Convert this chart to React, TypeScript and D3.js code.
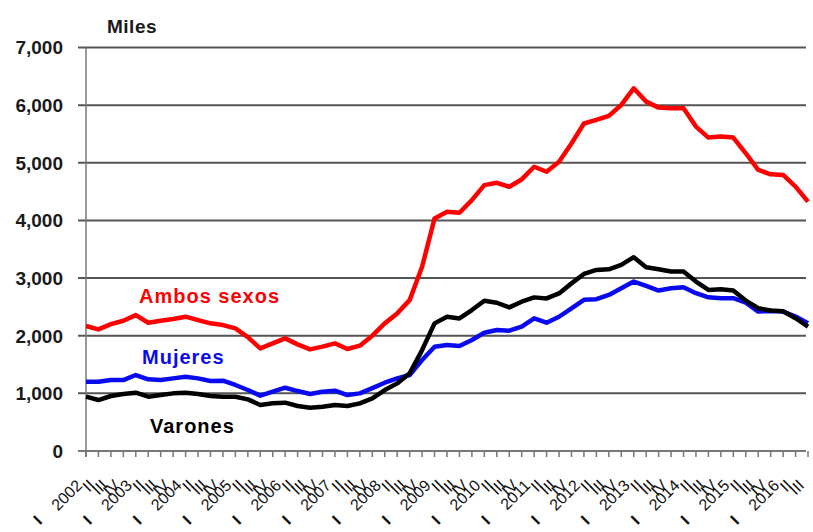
import { useEffect, useRef } from 'react';
import * as d3 from 'd3';

// Quarters 2002 I .. 2016 III
const years = d3.range(2002, 2017);
const quarterNames = ['I', 'II', 'III', 'IV'];
const quarters = years.flatMap(y => quarterNames.map(q => ({ year: y, q }))).slice(0, 59);

// Parados, miles
const ambosSexos = [
  2168, 2110, 2200, 2260, 2358, 2225, 2260, 2290, 2330, 2270,
  2215, 2185, 2127, 1975, 1780, 1867, 1954, 1850, 1763, 1810,
  1867, 1770, 1827, 2000, 2214, 2387, 2618, 3196, 4035, 4150,
  4133, 4353, 4613, 4653, 4584, 4711, 4931, 4844, 5017, 5335,
  5682, 5743, 5813, 6003, 6292, 6061, 5957, 5946, 5946, 5628,
  5437, 5454, 5437, 5165, 4876, 4801, 4789, 4586, 4326,
];
const mujeres = [
  1202, 1202, 1231, 1231, 1318, 1243, 1231, 1260, 1289, 1260,
  1214, 1220, 1145, 1058, 960, 1029, 1098, 1040, 988, 1029,
  1046, 971, 1000, 1090, 1185, 1260, 1318, 1578, 1809, 1838,
  1821, 1925, 2052, 2098, 2087, 2156, 2301, 2225, 2329, 2474,
  2622, 2633, 2708, 2823, 2939, 2864, 2783, 2823, 2841, 2737,
  2667, 2650, 2650, 2575, 2419, 2430, 2419, 2332, 2217,
];
const varones = [
  942, 884, 954, 988, 1012, 942, 971, 1000, 1012, 988,
  954, 942, 942, 896, 798, 827, 838, 780, 751, 769,
  798, 780, 827, 913, 1058, 1173, 1347, 1751, 2214, 2329,
  2300, 2445, 2607, 2572, 2491, 2590, 2665, 2647, 2734, 2908,
  3071, 3142, 3153, 3228, 3362, 3188, 3153, 3113, 3113, 2939,
  2794, 2806, 2783, 2610, 2477, 2436, 2425, 2303, 2159,
];
const yTicks = [0, 1000, 2000, 3000, 4000, 5000, 6000, 7000];

const seriesList = [
  { name: 'Ambos sexos', values: ambosSexos, color: '#ff0000', lx: 139, ly: 303 },
  { name: 'Mujeres', values: mujeres, color: '#0a0af0', lx: 142, ly: 364 },
  { name: 'Varones', values: varones, color: '#000000', lx: 150, ly: 433 },
];

const FONT = '"Liberation Sans", Arial, sans-serif';

export default function App() {
  const svgRef = useRef<SVGSVGElement>(null);

  useEffect(() => {
    const width = 813;
    const height = 532;
    const margin = { top: 47.5, right: 5, bottom: 81, left: 86 };

    const svg = d3.select(svgRef.current);
    svg.selectAll('*').remove();
    svg.attr('width', width).attr('height', height);

    const x = d3.scalePoint<number>()
      .domain(d3.range(quarters.length))
      .range([margin.left, width - margin.right]);

    const y = d3.scaleLinear()
      .domain([0, 7000])
      .range([height - margin.bottom, margin.top]);

    // Gridlines + left ticks
    svg.append('g')
      .selectAll('line')
      .data(yTicks.filter(d => d > 0))
      .join('line')
      .attr('x1', margin.left - 8)
      .attr('x2', width - margin.right - 2)
      .attr('y1', d => y(d))
      .attr('y2', d => y(d))
      .attr('stroke', '#555')
      .attr('stroke-width', 2);

    // Y axis line
    svg.append('line')
      .attr('x1', margin.left).attr('x2', margin.left)
      .attr('y1', y(7000)).attr('y2', y(0) + 6)
      .attr('stroke', '#777').attr('stroke-width', 1.5);

    // X axis line + ticks
    svg.append('line')
      .attr('x1', margin.left - 8).attr('x2', width - margin.right - 2)
      .attr('y1', y(0)).attr('y2', y(0))
      .attr('stroke', '#777').attr('stroke-width', 2);

    svg.append('g')
      .selectAll('line')
      .data(d3.range(quarters.length))
      .join('line')
      .attr('x1', d => x(d)!)
      .attr('x2', d => x(d)!)
      .attr('y1', y(0))
      .attr('y2', y(0) + 6)
      .attr('stroke', '#777')
      .attr('stroke-width', 1.5);

    // Y tick labels
    svg.append('g')
      .selectAll('text')
      .data(yTicks)
      .join('text')
      .attr('x', 63)
      .attr('y', d => y(d))
      .attr('dy', '0.36em')
      .attr('text-anchor', 'end')
      .attr('font-family', FONT)
      .attr('font-weight', 'bold')
      .attr('font-size', '19px')
      .attr('fill', '#1a1a1a')
      .text(d => d3.format(',')(d));

    svg.append('text')
      .attr('x', 107)
      .attr('y', 33)
      .attr('font-family', FONT)
      .attr('font-weight', 'bold')
      .attr('font-size', '19px')
      .attr('letter-spacing', '0.5px')
      .attr('fill', '#1a1a1a')
      .text('Miles');

    // X labels, rotated
    const lab = svg.append('g')
      .selectAll('g')
      .data(quarters)
      .join('g')
      .attr('transform', (_d, i) => `translate(${x(i)},${y(0)}) rotate(-45)`)
      .attr('font-family', FONT)
      .attr('font-size', '16px')
      .attr('fill', '#111');

    lab.append('text')
      .attr('x', -27)
      .attr('y', 23)
      .attr('text-anchor', 'end')
      .text(d => (d.q === 'I' ? String(d.year) : d.q));

    lab.filter(d => d.q === 'I')
      .append('text')
      .attr('x', -83)
      .attr('y', 20)
      .attr('text-anchor', 'middle')
      .attr('font-weight', 'bold')
      .attr('font-size', '16px')
      .text('I');

    // Lines
    const line = d3.line<number>()
      .x((_d, i) => x(i)!)
      .y(d => y(d))
      .curve(d3.curveLinear);

    seriesList.forEach(s => {
      svg.append('path')
        .datum(s.values)
        .attr('fill', 'none')
        .attr('stroke', s.color)
        .attr('stroke-width', 4.5)
        .attr('stroke-linejoin', 'round')
        .attr('d', line);
    });

    // Series labels
    svg.append('g')
      .selectAll('text')
      .data(seriesList)
      .join('text')
      .attr('x', d => d.lx)
      .attr('y', d => d.ly)
      .attr('font-family', FONT)
      .attr('font-weight', 'bold')
      .attr('font-size', '20px')
      .attr('letter-spacing', '1px')
      .attr('fill', d => d.color)
      .text(d => d.name);
  }, []);

  return (
    <div style={{ position: 'absolute', left: 0, top: 0, background: '#fff' }}>
      <svg ref={svgRef} style={{ display: 'block' }}></svg>
    </div>
  );
}
